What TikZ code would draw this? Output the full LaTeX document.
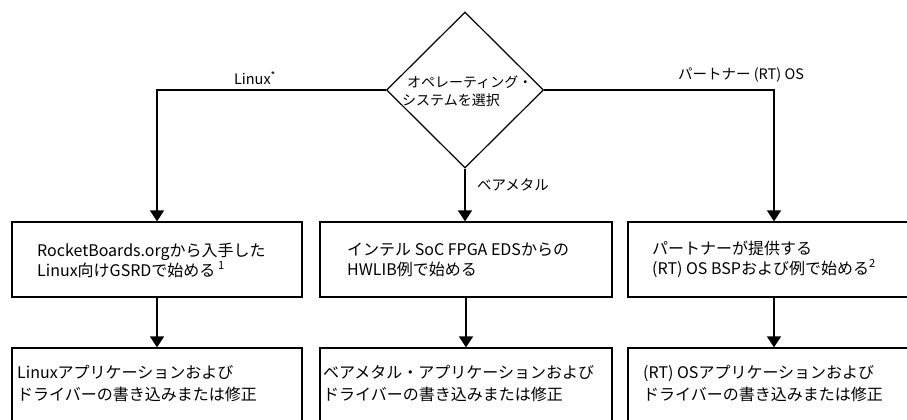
\documentclass[tikz,border=0pt]{standalone}
\usepackage{fontspec}
\setmainfont{Noto Sans CJK JP}
\usetikzlibrary{shapes.geometric,arrows.meta}
\tikzset{
  line/.style={line width=1.2pt, draw=black},
  arr/.style={line, -{Triangle[width=14pt,length=11pt]}},
  box/.style={line, rectangle, inner sep=0pt},
  boxtext/.style={anchor=west, align=left, inner sep=0pt, font=\fontsize{16}{20}\selectfont},
  boxtextb/.style={anchor=west, align=left, inner sep=0pt, font=\fontsize{16}{22}\selectfont},
  lbl/.style={inner sep=0pt, font=\fontsize{14.5}{18}\selectfont},
}
\begin{document}
\begin{tikzpicture}[x=1pt,y=-1pt]
\useasboundingbox (0,0) rectangle (907,420);
\clip (0,0) rectangle (907,420);
\fill[white] (0,0) rectangle (907,420);
% decision
\node[line, diamond, minimum width=157pt, minimum height=156pt, inner sep=0pt] (dia) at (465,90) {};
\node[anchor=west, align=left, inner sep=0pt, font=\fontsize{14}{18}\selectfont] (diatext) at (402,91)
  {\hspace*{5pt}オペレーティング・\\システムを選択};
% first row boxes
\node[box, minimum width=290pt, minimum height=75pt] (box1) at (157,259.5) {};
\node[box, minimum width=292pt, minimum height=75pt] (box2) at (466,259.5) {};
\node[box, minimum width=292pt, minimum height=75pt] (box3) at (774,259.5) {};
% second row boxes
\node[box, minimum width=290pt, minimum height=74pt] (box4) at (157,385) {};
\node[box, minimum width=292pt, minimum height=74pt] (box5) at (466,385) {};
\node[box, minimum width=292pt, minimum height=74pt] (box6) at (774,385) {};
% texts
\node[boxtext] (t1) at (37,260) {RocketBoards.orgから入手した\\Linux向けGSRDで始める\,\textsuperscript{1}};
\node[boxtext] (t2) at (347,260) {インテル SoC FPGA EDSからの\\HWLIB例で始める};
\node[boxtext] (t3) at (652,259) {パートナーが提供する\\(RT) OS BSPおよび例で始める\textsuperscript{2}};
\node[boxtextb] (t4) at (17,384) {Linuxアプリケーションおよび\\ドライバーの書き込みまたは修正};
\node[boxtextb] (t5) at (323,384) {ベアメタル・アプリケーションおよび\\ドライバーの書き込みまたは修正};
\node[boxtextb] (t6) at (643,384) {(RT) OSアプリケーションおよび\\ドライバーの書き込みまたは修正};
% connectors
\draw[arr] (dia.west) -| (box1.north);
\draw[arr] (dia.east) -| (box3.north);
\draw[arr] (dia.south) -- (dia.south |- box2.north);
\draw[arr] (box1.south) -- (box4.north);
\draw[arr] (box2.south) -- (box5.north);
\draw[arr] (box3.south) -- (box6.north);
% edge labels
\node[lbl] (l1) at (255,78) {Linux\textsuperscript{*}};
\node[lbl] (l2) at (741,75) {パートナー (RT) OS};
\node[lbl, anchor=west] (l3) at (477,185) {ベアメタル};
\end{tikzpicture}
\end{document}
